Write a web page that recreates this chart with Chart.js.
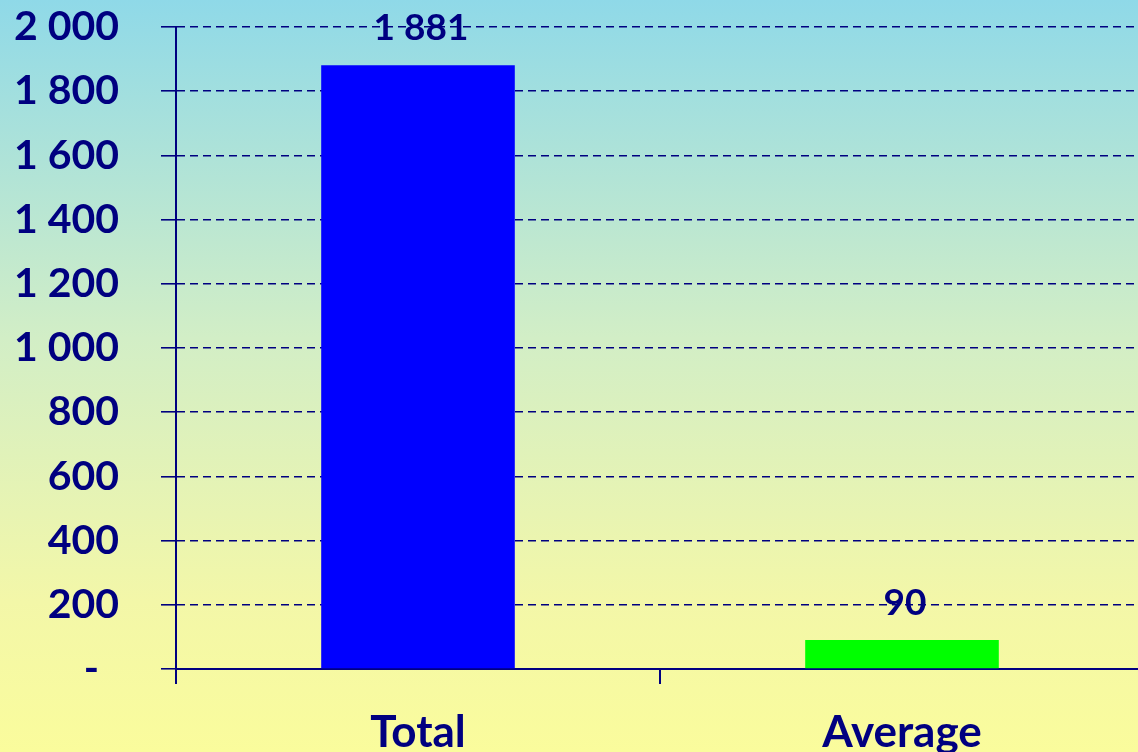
<!DOCTYPE html>
<html>
<head>
    <meta charset="utf-8">
    <title>Total and Average</title>
    <script src="https://cdn.jsdelivr.net/npm/chart.js@4.4.1/dist/chart.umd.min.js"></script>
    <style>
        html, body {
            margin: 0;
            padding: 0;
            width: 1138px;
            height: 752px;
            overflow: hidden;
            background: linear-gradient(to bottom, #8fd9e8 0%, #d2eec6 45%, #f3f7a8 80%, #fafc9c 100%);
        }
        #wrap { width: 1160px; height: 752px; }
    </style>
</head>
<body>
    <div id="wrap"><canvas id="chart"></canvas></div>

    <script>
        const categories = ['Total', 'Average'];
        const values = [1881, 90];
        const barColors = ['#0000ff', '#00ff00'];
        const yTicks = [0, 200, 400, 600, 800, 1000, 1200, 1400, 1600, 1800, 2000];

        const navy = '#000080';

        // thousands with a space, zero shown as a dash (accounting style)
        function fmt(v) {
            if (v === 0) return '-  ';
            return String(v).replace(/\B(?=(\d{3})+(?!\d))/g, ' ');
        }

        const barLabels = {
            id: 'barLabels',
            afterDatasetsDraw(chart) {
                const ctx = chart.ctx;
                const meta = chart.getDatasetMeta(0);
                ctx.save();
                ctx.font = 'bold 37px Lato';
                ctx.fillStyle = navy;
                ctx.textAlign = 'center';
                ctx.textBaseline = 'middle';
                meta.data.forEach((bar, i) => {
                    ctx.fillText(fmt(values[i]), bar.x + 3, bar.y - 37);
                });
                ctx.restore();
            }
        };

        new Chart(document.getElementById('chart'), {
            type: 'bar',
            data: {
                labels: categories,
                datasets: [{
                    data: values,
                    backgroundColor: barColors,
                    borderWidth: 0,
                    barPercentage: 0.4,
                    categoryPercentage: 1
                }]
            },
            options: {
                responsive: true,
                maintainAspectRatio: false,
                animation: false,
                layout: { padding: { top: 27, left: 0, right: 16, bottom: 0 } },
                plugins: {
                    legend: { display: false },
                    tooltip: { enabled: false }
                },
                scales: {
                    x: {
                        afterFit: s => { s.height = 83; },
                        grid: {
                            offset: true,
                            drawOnChartArea: false,
                            color: navy,
                            lineWidth: 2,
                            tickLength: 15
                        },
                        border: { color: navy, width: 2 },
                        ticks: {
                            color: navy,
                            padding: 22,
                            font: { family: 'Lato', size: 44, weight: 'bold' }
                        }
                    },
                    y: {
                        min: 0,
                        max: 2000,
                        afterFit: s => {
                            s.width = 176;
                            s.paddingTop = 0;
                            s.paddingBottom = 0;
                        },
                        afterBuildTicks: s => { s.ticks = yTicks.map(v => ({ value: v })); },
                        grid: {
                            color: navy,
                            lineWidth: 1.6,
                            tickBorderDash: [],
                            tickLength: 15
                        },
                        border: { color: navy, width: 2, dash: [8, 5] },
                        ticks: {
                            color: navy,
                            padding: 42,
                            font: { family: 'Lato', size: 41, weight: 'bold' },
                            callback: v => fmt(v)
                        }
                    }
                }
            },
            plugins: [barLabels]
        });
    </script>
</body>
</html>
